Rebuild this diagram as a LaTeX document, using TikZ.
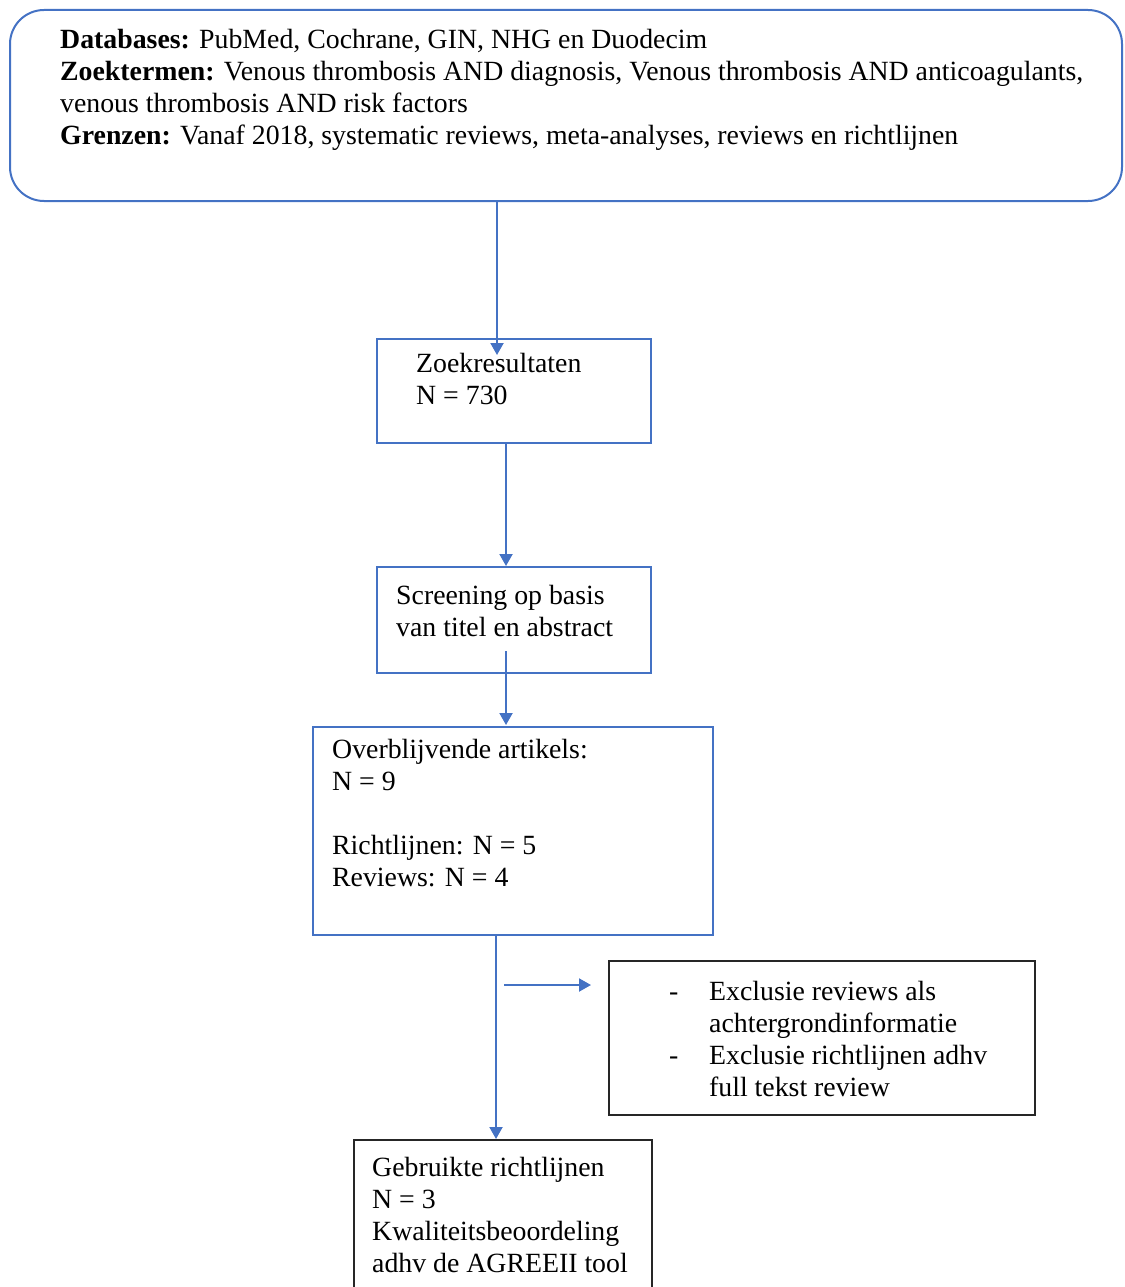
\documentclass[tikz,border=0pt]{standalone}
\usepackage{fontspec}
\setmainfont{Liberation Serif}
\usetikzlibrary{arrows.meta,calc}
\definecolor{flowblue}{HTML}{4472C4}
% first-line strut: puts the first baseline 22pt below the node's top
\newcommand{\firstrow}{\rule{0pt}{22pt}}
\tikzset{
  blueframe/.style={draw=flowblue, line width=2pt, fill=none, inner sep=0pt},
  blackframe/.style={draw=black!85, line width=2pt, fill=none, inner sep=0pt},
  boxtext/.style={anchor=north west, inner sep=0pt, align=left,
                  font=\fontsize{27.8}{32}\selectfont},
  flowarrow/.style={draw=flowblue, line width=2pt,
                    -{Triangle[width=13pt,length=12pt]}},
}
\begin{document}
\begin{tikzpicture}[x=1pt,y=-1pt]
\useasboundingbox (0,0) rectangle (1124,1287);
\clip (0,0) rectangle (1124,1287);

% search strategy (rounded box)
\node[blueframe, rounded corners=34pt, minimum width=1112pt, minimum height=191pt]
  (search) at (566,105.5) {};
\node[boxtext] (searchtxt) at (60,26) {\firstrow\textbf{Databases:} PubMed, Cochrane, GIN, NHG en Duodecim\\
\textbf{Zoektermen:} Venous thrombosis AND diagnosis, Venous thrombosis AND anticoagulants,\\
venous thrombosis AND risk factors\\
\textbf{Grenzen:} Vanaf 2018, systematic reviews, meta-analyses, reviews en richtlijnen};

% search results
\node[blueframe, minimum width=274pt, minimum height=104pt] (results) at (514,391) {};
\node[boxtext] (resultstxt) at (416,350) {\firstrow Zoekresultaten\\N = 730};

% screening
\node[blueframe, minimum width=274pt, minimum height=106pt] (screen) at (514,620) {};
\node[boxtext] (screentxt) at (396,582) {\firstrow Screening op basis\\van titel en abstract};

% remaining articles
\node[blueframe, minimum width=400pt, minimum height=208pt] (remain) at (513,831) {};
\node[boxtext] (remaintxt) at (332,736) {\firstrow Overblijvende artikels:\\N = 9\\[32pt]Richtlijnen: N = 5\\Reviews: N = 4};

% exclusions
\node[blackframe, minimum width=426pt, minimum height=154pt] (excl) at (822,1038) {};
\node[boxtext] (excltxt) at (669,978) {\firstrow\makebox[40pt][l]{-}Exclusie reviews als\\
\hspace*{40pt}achtergrondinformatie\\
\makebox[40pt][l]{-}Exclusie richtlijnen adhv\\
\hspace*{40pt}full tekst review};

% guidelines used
\node[blackframe, minimum width=298pt, minimum height=180pt] (used) at (503,1230) {};
\node[boxtext] (usedtxt) at (372,1154) {\firstrow Gebruikte richtlijnen\\N = 3\\Kwaliteitsbeoordeling\\adhv de AGREEII tool};

% connectors
\coordinate (c1) at (497,0);
\coordinate (c2) at (506,0);
\coordinate (c3) at (496,0);
\coordinate (c4) at (504,985);
\draw[flowarrow, shorten >=-17pt] (search.south -| c1) -- (results.north -| c1);
\draw[flowarrow] (results.south -| c2) -- (screen.north -| c2);
\draw[flowarrow, shorten <=-23pt, shorten >=1pt] (screen.south -| c2) -- (remain.north -| c2);
\draw[flowarrow] (remain.south -| c3) -- (used.north -| c3);
\draw[flowarrow, shorten >=17pt] (c4) -- (c4 -| excl.west);
\end{tikzpicture}
\end{document}
